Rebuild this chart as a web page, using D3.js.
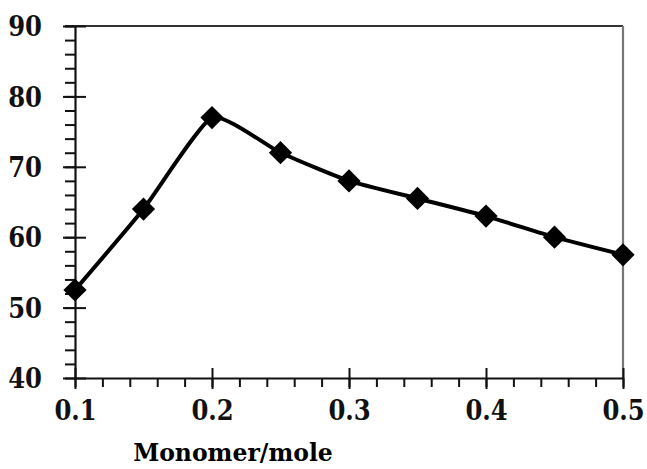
<!DOCTYPE html>
<html>
<head>
<meta charset="utf-8">
<script src="https://cdn.jsdelivr.net/npm/d3@7"></script>
<style>
  html, body { margin: 0; padding: 0; background: #fff; }
  svg { display: block; }
</style>
</head>
<body>
<svg id="chart" width="647" height="469"></svg>
<script>
// Monomer amount (mol) and measured response
const monomer = [0.1, 0.15, 0.2, 0.25, 0.3, 0.35, 0.4, 0.45, 0.5];
const values  = [52.5, 64, 77, 72, 68, 65.5, 63, 60, 57.5];
const xTicks = [0.1, 0.2, 0.3, 0.4, 0.5];
const yTicks = [40, 50, 60, 70, 80, 90];
const xLabel = "Monomer/mole";

const svg = d3.select("#chart");
const plotLeft = 75, plotRight = 623, plotTop = 26, plotBottom = 378;

const x = d3.scaleLinear().domain([0.1, 0.5]).range([plotLeft, plotRight]);
const y = d3.scaleLinear().domain([40, 90]).range([plotBottom, plotTop]);

const ink = "#111";
const tickFont = "'DejaVu Serif Condensed', 'Liberation Serif', 'Times New Roman', serif";

// frame: top and right edges
svg.append("line").attr("x1", plotLeft - 10).attr("x2", plotRight).attr("y1", plotTop).attr("y2", plotTop)
  .attr("stroke", "#333").attr("stroke-width", 2.2);
svg.append("line").attr("x1", plotRight).attr("x2", plotRight).attr("y1", plotTop).attr("y2", plotBottom)
  .attr("stroke", "#777").attr("stroke-width", 2.2);

// y axis: major ticks cross the axis, minor ticks on the outside
const yAxisMinor = d3.axisLeft(y).tickValues(d3.range(40, 90.1, 2)).tickSize(10).tickFormat("");
const gyMinor = svg.append("g").attr("transform", `translate(${plotLeft},0)`).call(yAxisMinor);
gyMinor.select(".domain").remove();
gyMinor.selectAll("line").attr("stroke", ink).attr("stroke-width", 2);

const yAxis = d3.axisLeft(y).tickValues(yTicks).tickSizeInner(12).tickSizeOuter(0).tickPadding(21);
const gy = svg.append("g").attr("transform", `translate(${plotLeft},0)`).call(yAxis);
gy.select(".domain").attr("stroke", ink).attr("stroke-width", 2.2);
gy.selectAll(".tick line").attr("x2", -12).attr("x1", 11).attr("stroke", ink).attr("stroke-width", 2);
gy.selectAll(".tick text")
  .style("font-family", tickFont)
  .style("font-weight", "bold").style("font-size", "27px").attr("fill", "#111")
  .attr("dy", "0.36em");

// x axis
const xAxisMinor = d3.axisBottom(x).tickValues(d3.range(0.1, 0.5001, 0.02)).tickSize(9).tickFormat("");
const gxMinor = svg.append("g").attr("transform", `translate(0,${plotBottom})`).call(xAxisMinor);
gxMinor.select(".domain").remove();
gxMinor.selectAll("line").attr("stroke", ink).attr("stroke-width", 2);

const xAxis = d3.axisBottom(x).tickValues(xTicks).tickFormat(d3.format(".1f"))
  .tickSizeInner(10).tickSizeOuter(0).tickPadding(13);
const gx = svg.append("g").attr("transform", `translate(0,${plotBottom})`).call(xAxis);
gx.select(".domain").attr("stroke", ink).attr("stroke-width", 2.2);
gx.selectAll(".tick line").attr("y1", -10).attr("y2", 11).attr("stroke", ink).attr("stroke-width", 2);
gx.selectAll(".tick text")
  .style("font-family", tickFont)
  .style("font-weight", "bold").style("font-size", "27px").attr("fill", "#111");

// axis title
svg.append("text").attr("x", 233).attr("y", 461).attr("text-anchor", "middle")
  .style("font-family", "'DejaVu Serif', serif").style("font-weight", "bold")
  .style("font-size", "23.5px").attr("fill", "#000").text(xLabel);

// smoothed line through the points
const pts = monomer.map((m, i) => [m, values[i]]);
const line = d3.line().x(d => x(d[0])).y(d => y(d[1])).curve(d3.curveCardinal.tension(0.5));
svg.append("path").datum(pts).attr("d", line)
  .attr("fill", "none").attr("stroke", "#000").attr("stroke-width", 4);

// diamond markers
svg.selectAll(".pt").data(pts).join("path").attr("class", "pt")
  .attr("transform", d => `translate(${x(d[0])},${y(d[1])}) rotate(45)`)
  .attr("d", d3.symbol().type(d3.symbolSquare).size(270))
  .attr("fill", "#000");
</script>
</body>
</html>
